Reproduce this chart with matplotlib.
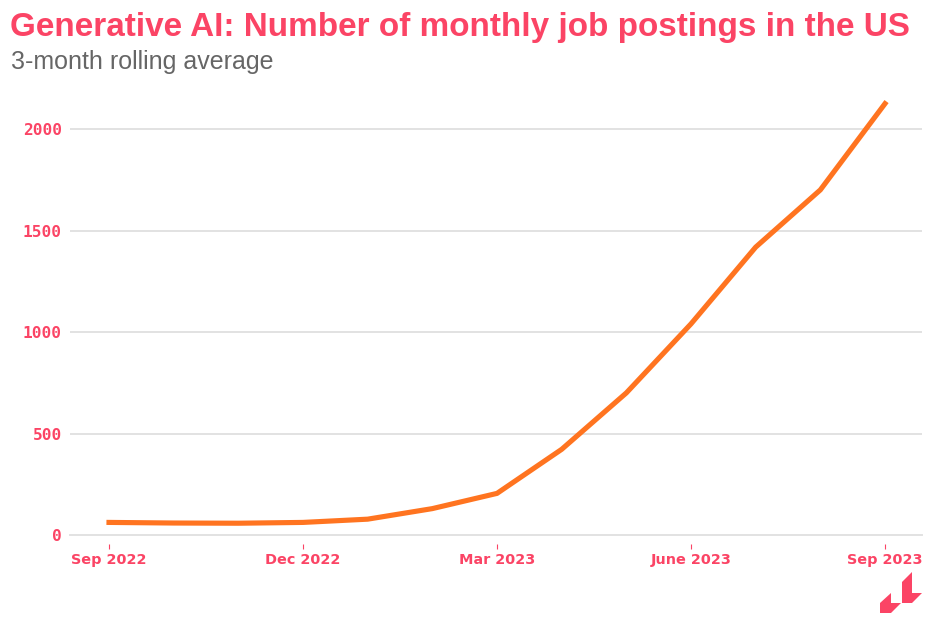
import matplotlib
matplotlib.use("Agg")
import matplotlib.pyplot as plt
from matplotlib.patches import Polygon
from matplotlib.transforms import ScaledTranslation

PINK = "#fb4465"
ORANGE = "#ff7420"
GRID = "#e2e2e2"
W, H = 933, 617

months = list(range(13))
postings = [62, 59, 58, 62, 78, 130, 205, 422, 700, 1040, 1418, 1700, 2125]
tick_pos = [0, 3, 6, 9, 12]
tick_labels = ["Sep 2022", "Dec 2022", "Mar 2023", "June 2023", "Sep 2023"]

fig = plt.figure(figsize=(W / 100, H / 100), dpi=100)
ax = fig.add_axes([70 / W, (H - 535) / H, (922 - 70) / W, (535 - 90) / H])

px_per_month = (885 - 109) / 12
ax.set_xlim(-(109 - 70) / px_per_month, 12 + (922 - 885) / px_per_month)
ax.set_ylim(0, (535 - 90) / (406 / 2000))

ax.plot(months, postings, color=ORANGE, lw=3.7, solid_capstyle="projecting",
        solid_joinstyle="miter", zorder=3, clip_on=False)

ax.set_yticks([0, 500, 1000, 1500, 2000])
ax.grid(axis="y", color=GRID, lw=1.4)
ax.set_axisbelow(True)
for side in ["top", "right", "left"]:
    ax.spines[side].set_visible(False)
ax.spines["bottom"].set_color(GRID)
ax.spines["bottom"].set_linewidth(1.4)

ax.tick_params(axis="y", length=0, pad=6, labelcolor=PINK)
for lab in ax.get_yticklabels():
    lab.set_family("DejaVu Sans Mono")
    lab.set_fontweight("bold")
    lab.set_fontsize(11.6)

ax.set_xticks(tick_pos)
ax.set_xticklabels(tick_labels, family="DejaVu Sans", fontweight="bold", fontsize=10.4, color=PINK)
ax.tick_params(axis="x", length=3.6, width=0.8, color=PINK, pad=9.5)
# ticks sit a little below the baseline in the original
for tick in ax.xaxis.get_major_ticks():
    tick.tick1line.set_transform(ax.get_xaxis_transform() + ScaledTranslation(0, -9 / 100, fig.dpi_scale_trans))

fig.text(10 / W, 1 - 36 / H, "Generative AI: Number of monthly job postings in the US",
         family="Liberation Sans", fontweight="bold", fontsize=23.95, color=PINK)
fig.text(11 / W, 1 - 69 / H, "3-month rolling average",
         family="Liberation Sans", fontsize=18, color="#666666")

# logo, in pixel positions
logo = [
    [(880, 613), (880, 603), (891, 593), (891, 603), (901, 603), (891, 613)],
    [(902, 603), (902, 582), (912, 572), (912, 593), (922, 593), (912, 603)],
]
for pts in logo:
    fig.add_artist(Polygon([(x / W, 1 - y / H) for x, y in pts], closed=True,
                           transform=fig.transFigure, facecolor=PINK, edgecolor="none"))

fig.savefig("out.png", dpi=100)
plt.close(fig)
